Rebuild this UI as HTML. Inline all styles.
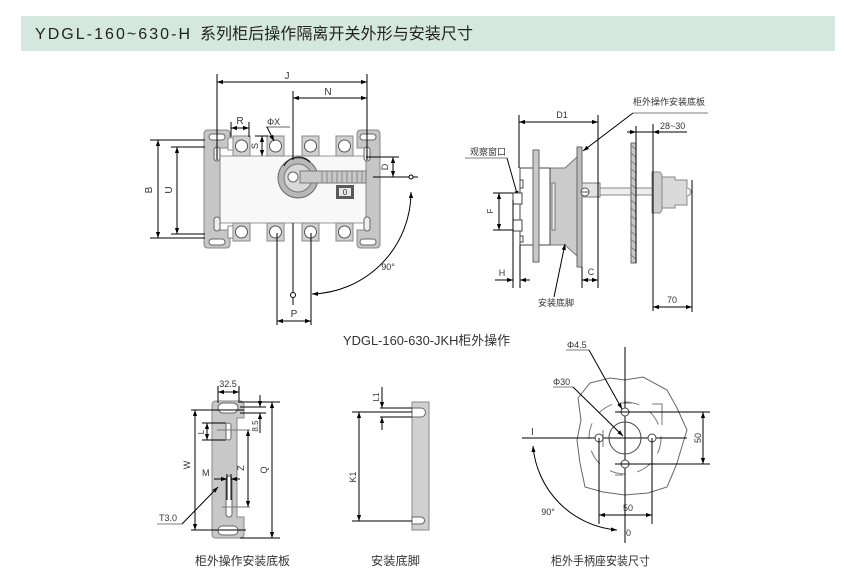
<!DOCTYPE html>
<html><head><meta charset="utf-8">
<style>
html,body{margin:0;padding:0;background:#fff;}
svg{display:block;}
text{font-family:"Liberation Sans","Noto Sans CJK SC",sans-serif;fill:#333;}
.k{stroke:#000;stroke-width:1;fill:none;}
.g{stroke:#888;stroke-width:1;}
</style></head><body>
<svg width="844" height="578" viewBox="0 0 844 578" xmlns="http://www.w3.org/2000/svg">
<defs>
<marker id="a" viewBox="0 0 10 10" refX="10" refY="5" markerWidth="6" markerHeight="6" orient="auto-start-reverse"><path d="M0,1.5 L10,5 L0,8.5 z" fill="#000"/></marker>
<pattern id="h" width="6" height="6" patternUnits="userSpaceOnUse" patternTransform="rotate(-50)"><rect width="6" height="6" fill="#c8c8c8"/><line x1="0" y1="0" x2="0" y2="6" stroke="#555" stroke-width="1.2"/></pattern>
</defs>

<!-- title band -->
<rect x="21" y="16" width="814" height="35" fill="#d5e8df"/>
<text y="39" font-size="16" fill="#222" style="fill:#222"><tspan x="35" textLength="155" lengthAdjust="spacing">YDGL-160~630-H</tspan><tspan x="200" textLength="273" lengthAdjust="spacing">系列柜后操作隔离开关外形与安装尺寸</tspan></text>

<!-- ============ TOP LEFT ============ -->
<!-- body -->
<rect x="219" y="156" width="147" height="67" fill="#f8f8f8" stroke="#999"/>
<!-- left bracket -->
<path d="M208,130 H226 Q230,130 230,134 V148 H220 V230 H230 V244 Q230,248 226,248 H208 Q204,248 204,244 V134 Q204,130 208,130 Z" fill="#c6c6c6" stroke="#888"/>
<rect x="209" y="134" width="16" height="6" rx="3" fill="#fff" stroke="#666"/>
<rect x="209" y="239" width="16" height="6" rx="3" fill="#fff" stroke="#666"/>
<rect x="214" y="147" width="6" height="14" rx="3" fill="#eee" stroke="#666"/>
<rect x="214" y="217" width="6" height="14" rx="3" fill="#eee" stroke="#666"/>
<!-- right bracket -->
<path d="M361,130 H376 Q380,130 380,134 V244 Q380,248 376,248 H361 Q357,248 357,244 V230 H366 V148 H357 V134 Q357,130 361,130 Z" fill="#c6c6c6" stroke="#888"/>
<rect x="360" y="134" width="16" height="6" rx="3" fill="#fff" stroke="#666"/>
<rect x="360" y="239" width="16" height="6" rx="3" fill="#fff" stroke="#666"/>
<rect x="364" y="147" width="6" height="14" rx="3" fill="#eee" stroke="#666"/>
<rect x="364" y="217" width="6" height="14" rx="3" fill="#eee" stroke="#666"/>
<!-- terminals -->
<g fill="#d0d0d0" stroke="#888">
<rect x="233" y="136" width="17" height="20"/><rect x="267" y="136" width="17" height="20"/><rect x="302" y="136" width="17" height="20"/><rect x="336" y="136" width="17" height="20"/>
<rect x="233" y="223" width="17" height="18"/><rect x="267" y="223" width="17" height="18"/><rect x="302" y="223" width="17" height="18"/><rect x="336" y="223" width="17" height="18"/>
</g>
<g fill="#fff" stroke="#555">
<circle cx="241.5" cy="146" r="6"/><circle cx="275.5" cy="146" r="6"/><circle cx="310.5" cy="146" r="6"/><circle cx="344.5" cy="146" r="6"/>
<circle cx="241.5" cy="232" r="6"/><circle cx="275.5" cy="232" r="6"/><circle cx="310.5" cy="232" r="6"/><circle cx="344.5" cy="232" r="6"/>
</g>
<rect x="228" y="138" width="5" height="12" fill="#fff" stroke="#888"/>
<rect x="228" y="226" width="5" height="12" fill="#fff" stroke="#888"/>
<!-- handle -->
<circle cx="298" cy="178" r="20" fill="#b8b8b8" stroke="#666"/>
<circle cx="298" cy="178" r="14" fill="#d8d8d8" stroke="#777"/>
<rect x="300" y="171" width="66" height="12" fill="#c8c8c8" stroke="#777"/>
<g stroke="#888"><line x1="322" y1="171" x2="322" y2="183"/><line x1="327" y1="171" x2="327" y2="183"/><line x1="332" y1="171" x2="332" y2="183"/><line x1="337" y1="171" x2="337" y2="183"/><line x1="342" y1="171" x2="342" y2="183"/><line x1="347" y1="171" x2="347" y2="183"/><line x1="352" y1="171" x2="352" y2="183"/><line x1="357" y1="171" x2="357" y2="183"/><line x1="362" y1="171" x2="362" y2="183"/></g>
<circle cx="293" cy="177" r="5" fill="#fff" stroke="#666"/>
<path d="M284,166 A16,16 0 0 1 310,162" stroke="#000" fill="none"/>
<!-- indicator -->
<rect x="336" y="185" width="18" height="14" fill="#5a5a5a"/>
<rect x="339" y="188" width="12" height="8" fill="#e6e6e6"/>
<text x="345" y="195" font-size="8" text-anchor="middle">0</text>

<!-- dims -->
<line class="k" x1="217" y1="82" x2="367" y2="82" marker-start="url(#a)" marker-end="url(#a)"/>
<line class="k" x1="217" y1="74" x2="217" y2="160"/>
<line class="k" x1="367" y1="74" x2="367" y2="160"/>
<text x="287" y="79" font-size="10" text-anchor="middle">J</text>
<line class="k" x1="293" y1="98" x2="367" y2="98" marker-start="url(#a)" marker-end="url(#a)"/>
<line class="k" x1="293" y1="91" x2="293" y2="160"/>
<text x="328" y="95" font-size="10" text-anchor="middle">N</text>
<!-- B, U -->
<line class="k" x1="150" y1="140" x2="205" y2="140"/><line class="k" x1="150" y1="238" x2="205" y2="238"/>
<line class="k" x1="158" y1="140" x2="158" y2="238" marker-start="url(#a)" marker-end="url(#a)"/>
<text transform="translate(152,190) rotate(-90)" font-size="10" text-anchor="middle">B</text>
<line class="k" x1="171" y1="147" x2="205" y2="147"/><line class="k" x1="171" y1="234" x2="205" y2="234"/>
<line class="k" x1="177" y1="147" x2="177" y2="234" marker-start="url(#a)" marker-end="url(#a)"/>
<text transform="translate(172,190) rotate(-90)" font-size="10" text-anchor="middle">U</text>
<!-- R -->
<line class="k" x1="231" y1="122" x2="231" y2="137"/><line class="k" x1="249" y1="122" x2="249" y2="137"/>
<line class="k" x1="231" y1="128" x2="249" y2="128" marker-start="url(#a)" marker-end="url(#a)"/>
<text x="240" y="124" font-size="10" text-anchor="middle">R</text>
<!-- S -->
<line class="k" x1="255" y1="136" x2="268" y2="136"/>
<line class="k" x1="262" y1="136" x2="262" y2="156" marker-start="url(#a)" marker-end="url(#a)"/>
<text transform="translate(258,146) rotate(-90)" font-size="9" text-anchor="middle">S</text>
<!-- phi -->
<text x="267" y="125" font-size="9">ΦX</text>
<line x1="266" y1="127" x2="290" y2="127" stroke="#333" stroke-width="0.8"/>
<line class="k" x1="267" y1="127" x2="274" y2="141" marker-end="url(#a)"/>
<!-- D -->
<line class="k" x1="366" y1="157" x2="399" y2="157"/>
<line class="k" x1="373" y1="177" x2="409" y2="177"/>
<circle cx="411" cy="177" r="2" fill="#fff" stroke="#000"/>
<line class="k" x1="413" y1="177" x2="418" y2="177"/>
<line class="k" x1="393" y1="157" x2="393" y2="177" marker-start="url(#a)" marker-end="url(#a)"/>
<text transform="translate(388,167) rotate(-90)" font-size="9" text-anchor="middle">D</text>
<!-- center, P -->
<line class="k" x1="293" y1="223" x2="293" y2="292"/>
<circle cx="293" cy="295" r="2.5" fill="#fff" stroke="#000"/>
<line class="k" x1="293" y1="298" x2="293" y2="305"/>
<line class="k" x1="277" y1="233" x2="277" y2="325"/>
<line class="k" x1="311" y1="233" x2="311" y2="325"/>
<line class="k" x1="277" y1="321" x2="311" y2="321" marker-start="url(#a)" marker-end="url(#a)"/>
<text x="294" y="317" font-size="10" text-anchor="middle">P</text>
<path class="k" d="M312,294 A102,102 0 0 0 411,192" marker-start="url(#a)" marker-end="url(#a)"/>
<text x="388" y="270" font-size="9" text-anchor="middle">90°</text>

<!-- ============ TOP RIGHT ============ -->
<text x="633" y="105" font-size="9">柜外操作安装底板</text>
<line x1="633" y1="113" x2="708" y2="113" stroke="#555" stroke-width="0.8"/>
<line class="k" x1="633" y1="113" x2="583" y2="151" marker-end="url(#a)" stroke-width="0.8"/>
<text x="470" y="155" font-size="9">观察窗口</text>
<line x1="465" y1="158" x2="507" y2="158" stroke="#555" stroke-width="0.8"/>
<line class="k" x1="507" y1="158" x2="518" y2="197" stroke-width="0.8" marker-end="url(#a)"/>
<!-- housing -->
<path d="M534,168 H520 V180 H523 V188 H520 M520,236 H523 V242 H520 V245 H534" fill="none" stroke="#444"/>
<line x1="520" y1="168" x2="520" y2="245" stroke="#444"/>
<rect x="513" y="193" width="9" height="11" fill="#fff" stroke="#444"/>
<rect x="513" y="220" width="9" height="11" fill="#fff" stroke="#444"/>
<line x1="539" y1="168" x2="551" y2="168" stroke="#444"/>
<line x1="539" y1="245" x2="551" y2="245" stroke="#444"/>
<rect x="533" y="150" width="6" height="112" fill="#c8c8c8" stroke="#666"/>
<path d="M550,168 H565 L577,157 V256 L565,245 H550 Z" fill="#cbcbcb" stroke="#777"/>
<line x1="550" y1="168" x2="550" y2="245" stroke="#444"/>
<rect x="552" y="183" width="3" height="47" fill="#eee" stroke="#777"/>
<rect x="577" y="147" width="5" height="120" fill="#bdbdbd" stroke="#666"/>
<rect x="582" y="183" width="18" height="14" fill="#e2e2e2" stroke="#777"/>
<circle cx="585" cy="192" r="4" fill="#fff" stroke="#555"/>
<line x1="581" y1="192" x2="589" y2="192" stroke="#555"/>
<rect x="600" y="188" width="52" height="7" fill="#eee" stroke="#888"/>
<rect x="631" y="143" width="5" height="120" fill="url(#h)" stroke="#666"/>
<path d="M652,172 H660 L662,175 V210 L660,213 H652 Z" fill="#cdcdcd" stroke="#888"/>
<path d="M662,177 H675 V180 H687 V205 H675 V208 H662 Z" fill="#dadada" stroke="#888"/>
<path d="M687,188 A4,4 0 0 1 687,196" fill="#eee" stroke="#888"/>
<!-- dims -->
<line class="k" x1="519" y1="122" x2="598" y2="122" marker-start="url(#a)" marker-end="url(#a)"/>
<line class="k" x1="519" y1="115" x2="519" y2="168"/>
<line class="k" x1="598" y1="115" x2="598" y2="288"/>
<text x="562" y="118" font-size="9" text-anchor="middle">D1</text>
<line class="k" x1="627" y1="132" x2="636" y2="132" marker-end="url(#a)"/>
<line class="k" x1="636" y1="132" x2="687" y2="132"/>
<line class="k" x1="660" y1="132" x2="653" y2="132" marker-end="url(#a)"/>
<line class="k" x1="636" y1="126" x2="636" y2="263"/>
<line class="k" x1="653" y1="124" x2="653" y2="311"/>
<text x="660" y="129" font-size="9">28~30</text>
<line class="k" x1="513" y1="200" x2="513" y2="288"/>
<line class="k" x1="520" y1="245" x2="520" y2="288"/>
<line class="k" x1="495" y1="280" x2="513" y2="280" marker-end="url(#a)"/>
<line class="k" x1="530" y1="280" x2="520" y2="280" marker-end="url(#a)"/>
<text x="502" y="276" font-size="9" text-anchor="middle">H</text>
<line class="k" x1="582" y1="267" x2="582" y2="288"/>
<line class="k" x1="582" y1="280" x2="598" y2="280" marker-start="url(#a)" marker-end="url(#a)"/>
<text x="591" y="275" font-size="9" text-anchor="middle">C</text>
<line class="k" x1="493" y1="193" x2="513" y2="193"/>
<line class="k" x1="493" y1="230" x2="513" y2="230"/>
<line class="k" x1="499" y1="193" x2="499" y2="230" marker-start="url(#a)" marker-end="url(#a)"/>
<text transform="translate(493,211) rotate(-90)" font-size="8" text-anchor="middle">F</text>
<line class="k" x1="692" y1="180" x2="692" y2="312"/>
<line class="k" x1="653" y1="307" x2="692" y2="307" marker-start="url(#a)" marker-end="url(#a)"/>
<text x="672" y="303" font-size="9" text-anchor="middle">70</text>
<text x="538" y="306" font-size="9">安装底脚</text>
<line class="k" x1="554" y1="297" x2="565" y2="244" stroke-width="0.8" marker-end="url(#a)"/>

<text x="343" y="345" font-size="13" textLength="167" lengthAdjust="spacingAndGlyphs">YDGL-160-630-JKH柜外操作</text>

<!-- ============ BOTTOM LEFT ============ -->
<path d="M216,401 H240 Q244,401 244,405 V418 H237 V517 H244 V534 Q244,538 240,538 H216 Q212,538 212,534 V405 Q212,401 216,401 Z" fill="#c8c8c8" stroke="#888"/>
<rect x="218" y="403" width="20" height="10" rx="5" fill="#fff" stroke="#666"/>
<rect x="218" y="526" width="20" height="9" rx="4.5" fill="#fff" stroke="#666"/>
<rect x="226" y="423" width="5" height="17" rx="2.5" fill="#fff" stroke="#666"/>
<rect x="226" y="476" width="6" height="41" rx="3" fill="#fff" stroke="#666"/>
<line x1="227" y1="474" x2="227" y2="500" stroke="#000"/><line x1="231" y1="474" x2="231" y2="500" stroke="#000"/>
<line x1="217" y1="430" x2="250" y2="430" stroke="#777"/>
<line x1="222" y1="507" x2="250" y2="507" stroke="#777"/>
<line class="k" x1="218" y1="386" x2="218" y2="403"/><line class="k" x1="239" y1="386" x2="239" y2="403"/>
<line class="k" x1="218" y1="392" x2="239" y2="392" marker-start="url(#a)" marker-end="url(#a)"/>
<text x="228" y="387" font-size="9" text-anchor="middle">32.5</text>
<line class="k" x1="240" y1="402" x2="280" y2="402"/>
<line class="k" x1="240" y1="538" x2="280" y2="538"/>
<line class="k" x1="272" y1="402" x2="272" y2="538" marker-start="url(#a)" marker-end="url(#a)"/>
<text transform="translate(267,470) rotate(-90)" font-size="9" text-anchor="middle">Q</text>
<line class="k" x1="191" y1="410" x2="244" y2="410"/>
<line class="k" x1="191" y1="530" x2="246" y2="530"/>
<line class="k" x1="195" y1="410" x2="195" y2="530" marker-start="url(#a)" marker-end="url(#a)"/>
<text transform="translate(190,465) rotate(-90)" font-size="9" text-anchor="middle">W</text>
<line class="k" x1="248" y1="430" x2="248" y2="507" marker-start="url(#a)" marker-end="url(#a)"/>
<text transform="translate(244,468) rotate(-90)" font-size="9" text-anchor="middle">Z</text>
<line class="k" x1="240" y1="407" x2="266" y2="407"/>
<line class="k" x1="240" y1="413" x2="266" y2="413"/>
<line class="k" x1="260" y1="395" x2="260" y2="407" marker-end="url(#a)"/>
<line class="k" x1="260" y1="433" x2="260" y2="413" marker-end="url(#a)"/>
<text transform="translate(258,426) rotate(-90)" font-size="8" text-anchor="middle">8.5</text>
<line class="k" x1="202" y1="423" x2="226" y2="423"/>
<line class="k" x1="202" y1="440" x2="226" y2="440"/>
<line class="k" x1="207" y1="423" x2="207" y2="440" marker-start="url(#a)" marker-end="url(#a)"/>
<text transform="translate(204,432) rotate(-90)" font-size="8" text-anchor="middle">L</text>
<text x="202" y="476" font-size="9">M</text>
<line class="k" x1="214" y1="479" x2="227" y2="479" marker-end="url(#a)"/>
<line class="k" x1="240" y1="479" x2="231" y2="479" marker-end="url(#a)"/>
<text x="159" y="521" font-size="9">T3.0</text>
<line x1="157" y1="524" x2="182" y2="524" stroke="#555" stroke-width="0.8"/>
<line class="k" x1="182" y1="524" x2="218" y2="487" stroke-width="0.8" marker-end="url(#a)"/>

<!-- ============ BOTTOM MIDDLE ============ -->
<rect x="412" y="402" width="17" height="128" fill="#d0d0d0" stroke="#888"/>
<path d="M412,408 H421 A4.5,4.5 0 0 1 421,417 H412 Z" fill="#fff" stroke="#666"/>
<path d="M412,517 H421 A3.5,3.5 0 0 1 421,524 H412 Z" fill="#fff" stroke="#666"/>
<line class="k" x1="380" y1="408" x2="412" y2="408"/>
<line class="k" x1="352" y1="412" x2="412" y2="412"/>
<line class="k" x1="380" y1="417" x2="412" y2="417"/>
<line class="k" x1="352" y1="521" x2="412" y2="521"/>
<line class="k" x1="359" y1="412" x2="359" y2="521" marker-start="url(#a)" marker-end="url(#a)"/>
<text transform="translate(356,477) rotate(-90)" font-size="9" text-anchor="middle">K1</text>
<line class="k" x1="382" y1="387" x2="382" y2="408" marker-end="url(#a)"/>
<line class="k" x1="382" y1="430" x2="382" y2="417" marker-end="url(#a)"/>
<text transform="translate(379,397) rotate(-90)" font-size="8" text-anchor="middle">L1</text>

<!-- ============ BOTTOM RIGHT ============ -->
<polygon points="590,383 610,378 625,380 643,377 667,390 677,408 687,430 683,443 677,463 673,473 667,487 648,493 625,495 603,492 585,487 580,463 577,440 581,420 578,398" fill="none" stroke="#666"/>
<circle cx="625" cy="438" r="36" fill="none" stroke="#777" stroke-dasharray="16 12"/>
<path d="M620,403 H632 M652,404 H662 V425 M615,475 H623 M603,447 V430" stroke="#777" fill="none"/>
<line class="k" x1="625" y1="347" x2="625" y2="543"/>
<line class="k" x1="522" y1="438" x2="687" y2="438"/>
<circle cx="625" cy="438" r="16" fill="none" stroke="#444"/>
<g fill="#fff" stroke="#444"><circle cx="625" cy="412" r="4"/><circle cx="625" cy="464" r="4"/><circle cx="599" cy="438" r="4"/><circle cx="652" cy="438" r="4"/></g>
<line class="k" x1="615" y1="412" x2="710" y2="412"/>
<line class="k" x1="615" y1="464" x2="710" y2="464"/>
<line class="k" x1="703" y1="412" x2="703" y2="464" marker-start="url(#a)" marker-end="url(#a)"/>
<text transform="translate(701,438) rotate(-90)" font-size="9" text-anchor="middle">50</text>
<line class="k" x1="599" y1="438" x2="599" y2="524"/>
<line class="k" x1="652" y1="438" x2="652" y2="524"/>
<line class="k" x1="599" y1="515" x2="652" y2="515" marker-start="url(#a)" marker-end="url(#a)"/>
<text x="628" y="511" font-size="9" text-anchor="middle">50</text>
<text x="567" y="348" font-size="9">Φ4.5</text>
<line x1="566" y1="350" x2="589" y2="350" stroke="#555" stroke-width="0.8"/>
<line class="k" x1="589" y1="350" x2="622" y2="409" stroke-width="0.8" marker-end="url(#a)"/>
<text x="553" y="385" font-size="9">Φ30</text>
<line x1="553" y1="387" x2="573" y2="387" stroke="#555" stroke-width="0.8"/>
<line class="k" x1="573" y1="387" x2="623" y2="436" stroke-width="0.8" marker-end="url(#a)"/>
<text x="531" y="435" font-size="10">I</text>
<text x="626" y="536" font-size="9">0</text>
<path class="k" d="M533,446 A92,92 0 0 0 617,530" marker-start="url(#a)" marker-end="url(#a)"/>
<text x="548" y="515" font-size="9" text-anchor="middle">90°</text>

<!-- captions -->
<text x="195" y="565" font-size="12" textLength="95" lengthAdjust="spacingAndGlyphs">柜外操作安装底板</text>
<text x="371" y="565" font-size="12" textLength="49" lengthAdjust="spacingAndGlyphs">安装底脚</text>
<text x="551" y="565" font-size="12" textLength="99" lengthAdjust="spacingAndGlyphs">柜外手柄座安装尺寸</text>
</svg>
</body></html>
